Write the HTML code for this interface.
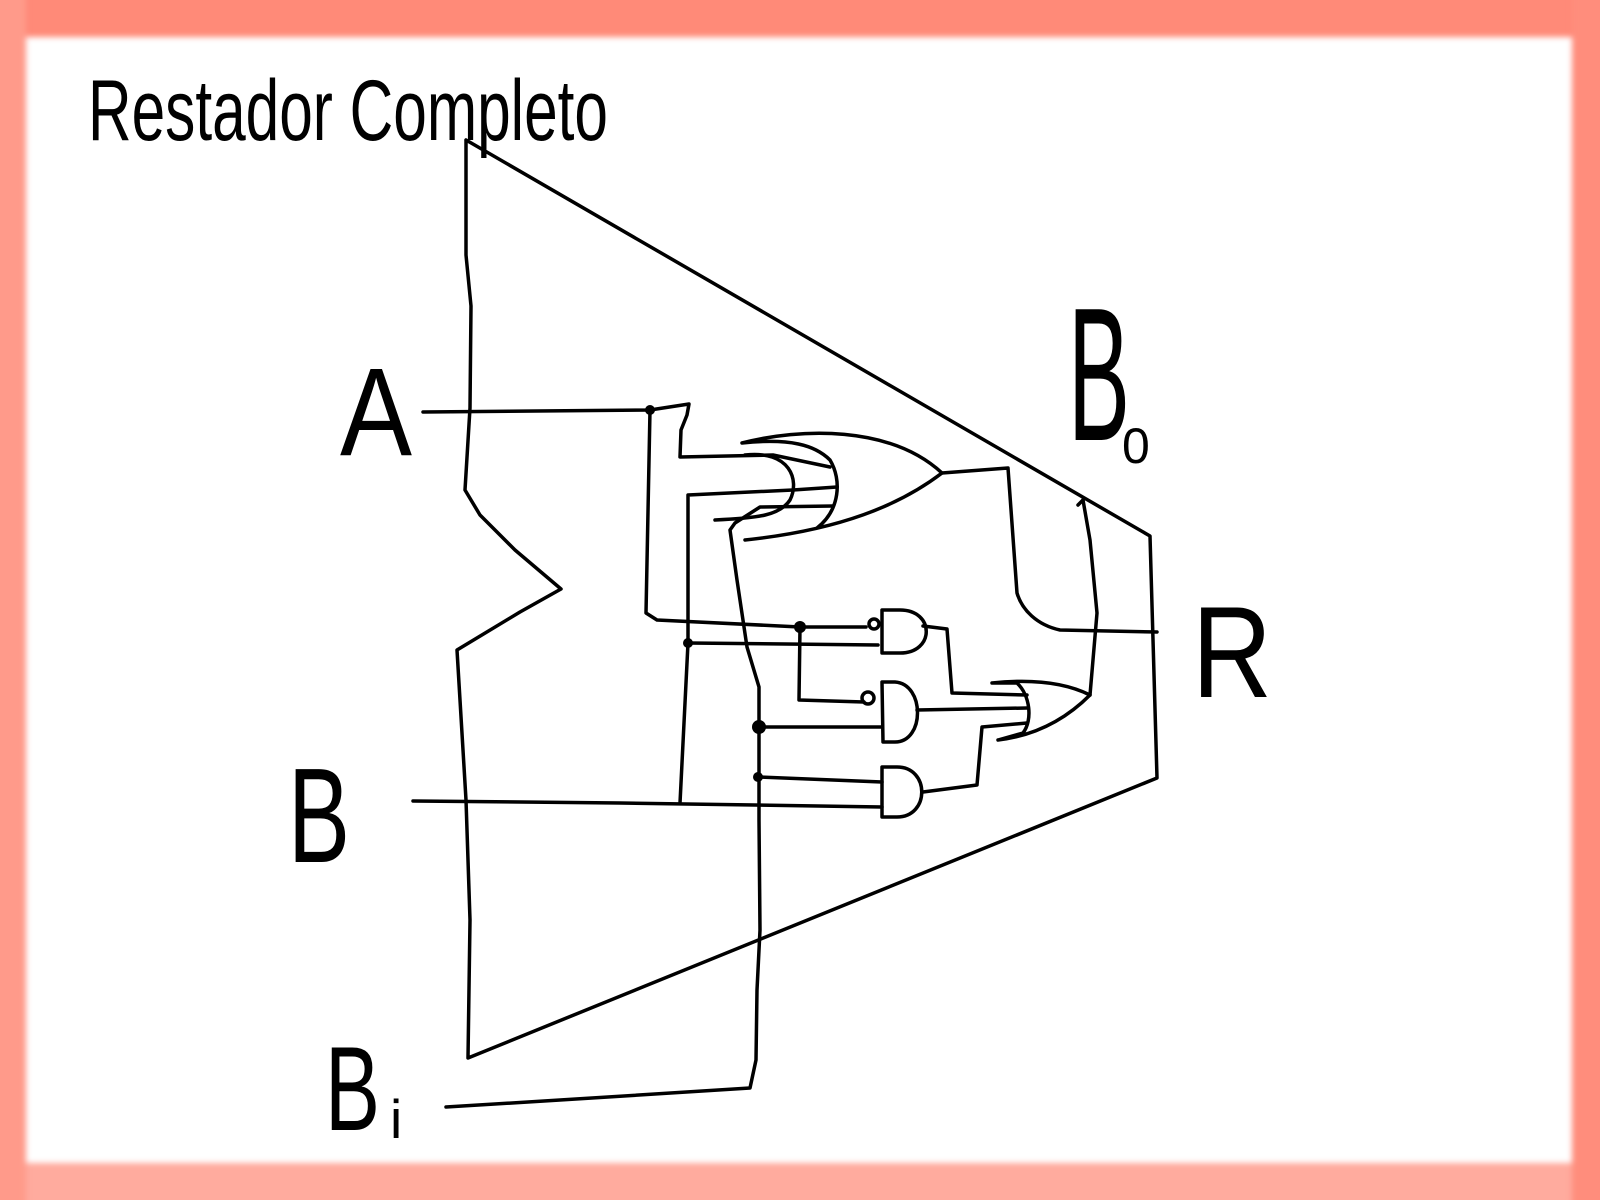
<!DOCTYPE html>
<html><head><meta charset="utf-8"><style>
html,body{margin:0;padding:0;background:#fff}
#frame{position:relative;width:1600px;height:1200px;overflow:hidden;background:#fff}
.band{position:absolute;filter:blur(3px)}
svg{position:absolute;left:0;top:0}
text{font-family:"Liberation Sans",sans-serif;fill:#000}
</style></head><body>
<div id="frame">
<div class="band" style="left:-10px;top:-10px;width:1620px;height:47px;background:#ff8a78"></div>
<div class="band" style="left:-10px;top:1163px;width:1620px;height:50px;background:#ffab9e"></div>
<div class="band" style="left:-10px;top:-10px;width:36px;height:1220px;background:#ff9a8a"></div>
<div class="band" style="left:1572px;top:-10px;width:40px;height:1220px;background:#ff8d7c"></div>
<svg width="1600" height="1200" viewBox="0 0 1600 1200" fill="none" stroke="#000" stroke-width="3.5" stroke-linejoin="round" stroke-linecap="round">
<text x="88" y="140" font-size="86" stroke="none" textLength="520" lengthAdjust="spacingAndGlyphs">Restador Completo</text>
<text x="340" y="455" font-size="125" stroke="none" textLength="72" lengthAdjust="spacingAndGlyphs">A</text>
<text x="288" y="862" font-size="135" stroke="none" textLength="62" lengthAdjust="spacingAndGlyphs">B</text>
<text x="325" y="1130" font-size="120" stroke="none" textLength="55" lengthAdjust="spacingAndGlyphs">B</text>
<text x="390" y="1138" font-size="55" stroke="none">i</text>
<text x="1068" y="440" font-size="190" stroke="none" textLength="62" lengthAdjust="spacingAndGlyphs">B</text>
<text x="1122" y="463" font-size="50" stroke="none">0</text>
<text x="1192" y="697" font-size="130" stroke="none" textLength="80" lengthAdjust="spacingAndGlyphs">R</text>

<path d="M466,140 L466,255 L471,306 L470,408 L465,490 L480,515 L515,550 L561,589 L520,612 L457,650 L460,700 L466,800 L470,920 L468,1058 L1157,778 L1150,536 L466,140"/>
<path d="M423,412 L650,410 L689,404 L687,415 L681,430 L680,457 L773,455 L830,467"/>
<path d="M650,410 L646,613 L657,620 L800,627 L866,627"/>
<path d="M413,801 L620,803 L882,807"/>
<path d="M680,803 L688,643 L688,495 L793,490 L837,487"/>
<path d="M688,643 L878,645"/>
<path d="M446,1107 L560,1100 L750,1088 L756,1060 L757,990 L760,930 L759,820 L759,687 L747,647 L737,580 L730,530 L735,523 L760,507 L833,506"/>
<path d="M800,627 L799,700 L864,702"/>
<path d="M759,727 L882,727"/>
<path d="M758,777 L882,782"/>
<path d="M742,443 C800,428 890,425 942,473 C900,505 840,530 745,540 M742,443 C790,438 815,445 830,460 C842,480 840,510 817,528 M745,455 C790,450 800,480 790,500 C780,515 760,518 715,520"/>
<path d="M942,473 L1008,468 L1017,593 C1022,610 1037,625 1060,630 L1157,632"/>
<path d="M882,653 L882,610 L900,610 C935,610 935,653 900,653 Z"/>
<circle cx="874" cy="624" r="5"/>
<path d="M883,742 L882,682 L895,682 C925,684 925,742 895,742 Z"/>
<circle cx="868" cy="698" r="6"/>
<path d="M882,817 L882,767 L897,767 C930,767 930,817 897,817 Z"/>
<path d="M923,626 L947,629 L952,693 L1027,695"/>
<path d="M917,710 L1027,708"/>
<path d="M923,792 L977,785 L982,727 L1027,723"/>
<path d="M992,683 C1040,678 1070,685 1090,695 C1070,715 1040,735 998,740 M992,683 L1017,683 C1030,695 1033,720 1023,733 L998,740"/>
<path d="M1090,695 L1097,613 L1090,540 L1083,500"/>
<path d="M1083,500 L1078,505"/>
<g fill="#000" stroke="none">
<circle cx="650" cy="410" r="5"/>
<circle cx="800" cy="627" r="6"/>
<circle cx="688" cy="643" r="5"/>
<circle cx="759" cy="727" r="7"/>
<circle cx="758" cy="777" r="5"/>
</g>
</svg>
</div>
</body></html>
